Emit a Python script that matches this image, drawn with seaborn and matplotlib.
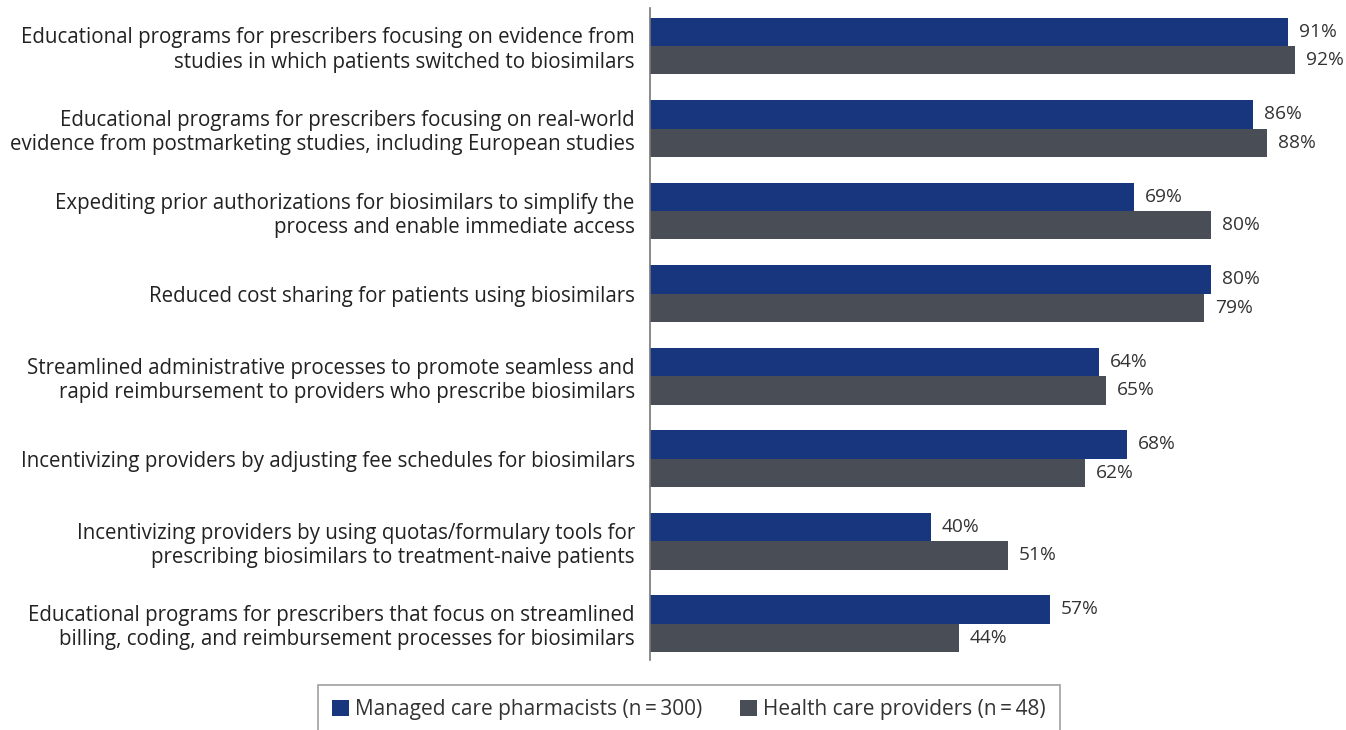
import matplotlib
matplotlib.use("Agg")
import matplotlib.pyplot as plt
import seaborn as sns
import pandas as pd
from matplotlib.patches import Patch

categories = [
    "Educational programs for prescribers focusing on evidence from\nstudies in which patients switched to biosimilars",
    "Educational programs for prescribers focusing on real-world\nevidence from postmarketing studies, including European studies",
    "Expediting prior authorizations for biosimilars to simplify the\nprocess and enable immediate access",
    "Reduced cost sharing for patients using biosimilars",
    "Streamlined administrative processes to promote seamless and\nrapid reimbursement to providers who prescribe biosimilars",
    "Incentivizing providers by adjusting fee schedules for biosimilars",
    "Incentivizing providers by using quotas/formulary tools for\nprescribing biosimilars to treatment-naive patients",
    "Educational programs for prescribers that focus on streamlined\nbilling, coding, and reimbursement processes for biosimilars",
]
series_names = ["Managed care pharmacists (n\u2009=\u2009300)", "Health care providers (n\u2009=\u200948)"]
pharmacists = [91, 86, 69, 80, 64, 68, 40, 57]
providers = [92, 88, 80, 79, 65, 62, 51, 44]
colors = ["#17367D", "#494D55"]

df = pd.DataFrame({
    "category": categories * 2,
    "group": [series_names[0]] * len(categories) + [series_names[1]] * len(categories),
    "value": pharmacists + providers,
})

sns.set_style("white")
plt.rcParams["font.family"] = ["Open Sans", "DejaVu Sans"]

fig = plt.figure(figsize=(13.46, 7.3), dpi=100)
ax = fig.add_axes([0.483, 0.096, 0.5208, 0.893])

sns.barplot(data=df, y="category", x="value", hue="group", order=categories,
            hue_order=series_names, palette=colors, width=0.69, orient="h",
            ax=ax, legend=False, saturation=1, linewidth=0, edgecolor="none")

for cont in ax.containers:
    ax.bar_label(cont, labels=[f"{int(v)}%" for v in cont.datavalues],
                 padding=8, fontsize=13.8, color="#333333")

ax.set_xlim(0, 100)
ax.set_ylim(7.44, -0.46)
ax.set_xlabel("")
ax.set_ylabel("")
ax.set_xticks([])
ax.tick_params(axis="y", length=0, pad=11, labelsize=14.8, labelcolor="#222222")
for lab in ax.get_yticklabels():
    lab.set_horizontalalignment("right")
    lab.set_multialignment("right")
for s in ["top", "right", "bottom"]:
    ax.spines[s].set_visible(False)
ax.spines["left"].set_color("#777777")
ax.spines["left"].set_linewidth(1.2)

handles = [Patch(facecolor=c, edgecolor="none") for c in colors]
leg = fig.legend(handles, series_names, loc="center", bbox_to_anchor=(689 / 1346, 1 - 710 / 730),
                 ncol=2, frameon=True, fancybox=False, fontsize=15, handlelength=0.8,
                 handleheight=0.8, handletextpad=0.3, columnspacing=1.8, borderpad=0.7)
leg.get_frame().set_edgecolor("#888888")
leg.get_frame().set_linewidth(1.2)
for t in leg.get_texts():
    t.set_color("#333333")

fig.savefig("out.png", dpi=100)
